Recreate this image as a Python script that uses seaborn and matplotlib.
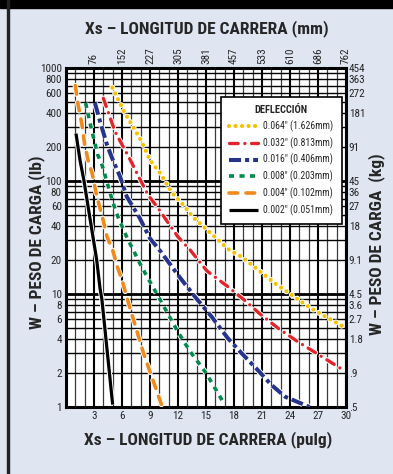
import numpy as np
import pandas as pd
import matplotlib
matplotlib.use("Agg")
import matplotlib.pyplot as plt
import matplotlib.patheffects as pe
from matplotlib.patches import Rectangle
from matplotlib.ticker import FixedLocator, NullFormatter
import seaborn as sns

# =========================
# DATA (stroke in inches, load in lb)
# =========================
x_yellow = [4.96, 6.3, 7.2, 8.1, 9.0, 10.1, 11.3, 12.6, 13.6, 15.1, 17.5, 18.8, 20.6, 22.4, 24.2, 26.0, 27.8, 29.8]
y_yellow = [670, 400, 300, 223, 153, 117, 80, 61, 48, 37, 24.5, 21.4, 16.3, 12.4, 9.8, 7.7, 6.3, 5.1]

x_red = [4.0, 4.7, 5.25, 6.9, 7.6, 8.8, 9.9, 11.0, 12.0, 13.3, 15.1, 17.35, 19.1, 20.7, 22.7, 24.8, 26.8, 29.8]
y_red = [540, 370, 274, 153, 117, 75, 57, 42, 32, 24.5, 16, 11.6, 8.85, 6.75, 5.0, 3.8, 3.0, 2.1]

x_blue = [3.1, 3.7, 4.4, 5.0, 5.8, 6.5, 7.9, 9.0, 10.1, 12.2, 13.8, 15.6, 17.35, 18.8, 20.6, 22.0, 23.5, 26.1]
y_blue = [490, 325, 208, 155, 109, 73, 47, 31, 24, 14, 9.5, 6.3, 4.05, 3.0, 2.1, 1.57, 1.23, 1.0]

x_green = [2.1, 2.7, 3.4, 3.8, 4.9, 5.4, 6.5, 8.1, 9.4, 10.1, 12.0, 13.3, 15.0, 17.0]
y_green = [490, 294, 170, 144, 70, 52, 32, 17.4, 11.2, 8.85, 4.6, 3.1, 2.0, 1.05]

x_orange = [1.0, 1.3, 1.7, 2.0, 2.4, 2.8, 3.3, 3.9, 4.4, 5.0, 5.5, 6.0, 6.7, 8.3, 10.25]
y_orange = [700, 470, 320, 210, 148, 117, 73, 48, 32, 24.5, 17.4, 13.3, 8.3, 3.0, 1.04]

x_black = [1.07, 1.5, 1.93, 2.6, 3.29, 3.64, 3.85, 5.0]
y_black = [263, 153, 100, 45, 20, 11.3, 8.9, 1.05]

legend_labels = ['0.064" (1.626mm)', '0.032" (0.813mm)', '0.016" (0.406mm)',
                 '0.008" (0.203mm)', '0.004" (0.102mm)', '0.002" (0.051mm)']

in_ticks = [3, 6, 9, 12, 15, 18, 21, 24, 27, 30]
mm_labels = ["76", "152", "227", "305", "381", "457", "533", "610", "686", "762"]
lb_ticks = [1, 2, 4, 6, 8, 10, 20, 40, 60, 80, 100, 200, 400, 600, 800, 1000]
lb_labels = ["1", "2", "4", "6", "8", "10", "20", "40", "60", "80", "100", "200", "400", "600", "800", "1000"]
kg_labels = [".5", ".9", "1.8", "2.7", "3.6", "4.5", "9.1", "18", "27", "36", "45", "91", "181", "272", "363", "454"]

# =========================
# STYLE
# =========================
sns.set_style("white")
plt.rcParams["font.family"] = ["Roboto Condensed", "Liberation Sans", "DejaVu Sans"]

BG = "#dfe6f2"
TICK_FS = 8

series = [
    (x_yellow, y_yellow, "#f5c200", 3.0, (0, (0.01, 1.55)), "round"),
    (x_red, y_red, "#e2242b", 2.4, (0, (2.6, 2.0, 0.01, 2.0)), "round"),
    (x_blue, y_blue, "#27348b", 2.9, (0, (3.0, 1.0, 1.0, 1.0)), "butt"),
    (x_green, y_green, "#00894a", 2.6, (0, (1.4, 1.5)), "butt"),
    (x_orange, y_orange, "#f08a1c", 2.6, (0, (2.4, 2.3)), "round"),
    (x_black, y_black, "black", 2.3, "-", "butt"),
]

fig = plt.figure(figsize=(3.93, 4.74), dpi=100, facecolor=BG)
ax = fig.add_axes([66 / 393, 1 - 407 / 474, 280 / 393, 339 / 474])
ax.set_facecolor("white")

# frame decoration
fig.patches.append(Rectangle((0, 1 - 8 / 474), 1, 8 / 474, transform=fig.transFigure,
                             color="black", zorder=0))
fig.patches.append(Rectangle((7 / 393, 0), 2 / 393, 1, transform=fig.transFigure,
                             color="#222222", zorder=0))

# =========================
# CURVES
# =========================
handles = []
for (xs, ys, col, lw, ls, cap), lab in zip(series, legend_labels):
    df = pd.DataFrame({"x": xs, "y": ys})
    sns.lineplot(data=df, x="x", y="y", ax=ax, color=col, linewidth=lw,
                 linestyle=ls, label=lab, zorder=5, legend=False)
    line = ax.lines[-1]
    line.set_dash_capstyle(cap)
    line.set_solid_capstyle("butt")
    line.set_path_effects([pe.Stroke(linewidth=lw + 1.4, foreground="white"), pe.Normal()])
    handles.append(line)

# =========================
# AXES
# =========================
ax.set_yscale("log")
ax.set_xlim(0, 30)
ax.set_ylim(1, 1000)
ax.set_xlabel("")
ax.set_ylabel("")

ax.set_xticks(in_ticks)
ax.set_xticklabels([str(t) for t in in_ticks])
ax.xaxis.set_minor_locator(FixedLocator(range(0, 31)))
ax.yaxis.set_major_locator(FixedLocator(lb_ticks))
ax.set_yticklabels(lb_labels)
minor_y = [m * 10 ** d for d in range(0, 3) for m in range(2, 10)]
ax.yaxis.set_minor_locator(FixedLocator(minor_y))
ax.yaxis.set_minor_formatter(NullFormatter())

ax.grid(which="major", axis="x", color="black", lw=1.5)
ax.grid(which="minor", axis="x", color="#3a3a3a", lw=0.9)
ax.grid(which="major", axis="y", color="black", lw=1.0)
ax.grid(which="minor", axis="y", color="black", lw=1.0)
for d in [10, 100]:
    ax.axhline(d, color="black", lw=2.0, zorder=1)
ax.set_axisbelow(True)

ax.tick_params(which="both", length=0, labelsize=TICK_FS, pad=3)
for s in ax.spines.values():
    s.set_linewidth(2.2)
    s.set_color("black")

# top axis (mm)
ax_top = ax.twiny()
ax_top.set_xlim(0, 30)
ax_top.set_xticks(in_ticks)
ax_top.set_xticklabels(mm_labels, rotation=90)
ax_top.tick_params(length=0, labelsize=TICK_FS, pad=3)

# right axis (kg)
ax_r = ax.twinx()
ax_r.set_yscale("log")
ax_r.set_ylim(1, 1000)
ax_r.yaxis.set_major_locator(FixedLocator(lb_ticks))
ax_r.yaxis.set_minor_locator(FixedLocator([]))
ax_r.set_yticklabels(kg_labels)
ax_r.tick_params(length=0, labelsize=TICK_FS, pad=2)
for a in (ax_top, ax_r):
    a.grid(False)
    for s in a.spines.values():
        s.set_visible(False)

# =========================
# TITLES
# =========================
TITLE_FS = 12.5
fig.text(207 / 393, 1 - 29 / 474, "Xs – LONGITUD DE CARRERA (mm)", ha="center", va="center",
         fontsize=TITLE_FS, fontweight="bold")
fig.text(208 / 393, 1 - 440 / 474, "Xs – LONGITUD DE CARRERA (pulg)", ha="center", va="center",
         fontsize=TITLE_FS, fontweight="bold")
fig.text(37 / 393, 1 - 242 / 474, "W – PESO DE CARGA (lb)", ha="center", va="center",
         rotation=90, fontsize=TITLE_FS, fontweight="bold")
fig.text(377 / 393, 1 - 244 / 474, "W – PESO DE CARGA  (kg)", ha="center", va="center",
         rotation=90, fontsize=TITLE_FS, fontweight="bold")

# =========================
# LEGEND
# =========================
leg = ax_r.legend(handles=handles, labels=legend_labels, title="DEFLECCIÓN",
                  loc="upper left", bbox_to_anchor=(0.536, 0.93), fontsize=7,
                  title_fontproperties={"weight": "bold", "size": 7.5},
                  frameon=True, fancybox=False, edgecolor="black", framealpha=1,
                  handlelength=3.0, handletextpad=0.5, labelspacing=0.55,
                  borderpad=0.85)
leg.get_frame().set_linewidth(1.2)
leg.set_zorder(10)

fig.savefig("out.png", dpi=100, facecolor=BG)
